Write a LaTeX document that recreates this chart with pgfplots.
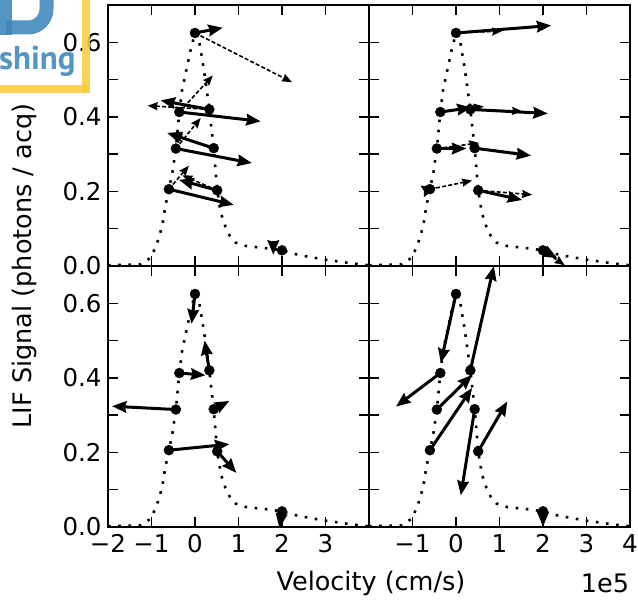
\documentclass[border=0pt]{standalone}
\usepackage{fontspec}
\setmainfont{DejaVu Sans}
\newfontfamily\logofont{PT Sans}
\usepackage{pgfplots}
\usepackage{pgfplotstable}
\pgfplotsset{compat=1.18}
\usetikzlibrary{arrows.meta}

\definecolor{logoyellow}{RGB}{252,204,64}
\definecolor{logoblue}{RGB}{62,134,184}

\pgfplotstableread{
x y
-2.0 0.002
-1.6 0.003
-1.25 0.005
-1.02 0.022
-0.92 0.047
-0.83 0.075
-0.75 0.11
-0.69 0.155
-0.6 0.206
-0.52 0.25
-0.44 0.315
-0.36 0.413
-0.3 0.47
-0.2 0.525
-0.1 0.58
0.0 0.625
0.1 0.6
0.2 0.53
0.33 0.42
0.43 0.316
0.51 0.203
0.6 0.14
0.7 0.105
0.8 0.081
0.93 0.063
1.16 0.054
1.45 0.05
1.7 0.047
2.0 0.042
2.3 0.032
2.6 0.025
3.0 0.017
3.3 0.012
3.6 0.007
4.0 0.002
}\tblcurve

\pgfplotstableread{
x y
0 0.625
0.33 0.42
-0.36 0.413
-0.44 0.315
0.43 0.316
-0.6 0.206
0.51 0.203
2.0 0.042
}\tblpts

% top-left
\pgfplotstableread{
x y u v
0 0.625 0.64 0.014
0.33 0.42 -1.12 0.024
-0.36 0.413 1.87 -0.025
-0.44 0.315 1.75 -0.039
0.43 0.316 -1.07 0.041
-0.6 0.206 1.49 -0.042
0.51 0.203 -0.88 0.028
1.80 0.068 0.0 -0.038
}\tblTLs
\pgfplotstableread{
x y u v
0 0.625 2.23 -0.132
0.33 0.42 -1.42 0.01
-0.36 0.413 0.77 0.098
-0.44 0.315 0.57 0.082
0.43 0.316 -0.95 0.037
-0.6 0.206 0.46 0.063
0.51 0.203 -0.8 0.04
}\tblTLd

% top-right
\pgfplotstableread{
x y u v
0 0.625 2.19 0.02
0.33 0.42 1.78 -0.011
-0.36 0.413 0.72 0.012
-0.44 0.315 0.68 0.0
0.43 0.316 1.3 -0.02
-0.6 0.206 0.15 0.005
0.51 0.203 1.01 -0.026
2.0 0.042 0.33 -0.021
}\tblTRs
\pgfplotstableread{
x y u v
0 0.625 1.06 0.005
0.33 0.42 1.19 -0.005
-0.36 0.413 1.0 0.015
-0.44 0.315 0.97 0.015
0.43 0.316 1.2 -0.016
-0.6 0.206 0.97 0.023
0.51 0.203 1.24 -0.012
2.0 0.042 0.5 -0.04
}\tblTRd

% bottom-left
\pgfplotstableread{
x y u v
0 0.625 -0.08 -0.08
0.33 0.42 -0.11 0.08
-0.36 0.413 0.6 -0.006
-0.44 0.315 -1.47 0.009
0.43 0.316 0.36 0.022
-0.6 0.206 1.39 0.016
0.51 0.203 0.44 -0.058
2.0 0.042 -0.06 -0.045
}\tblBLs

% bottom-right
\pgfplotstableread{
x y u v
0 0.625 -0.35 -0.185
0.33 0.42 0.54 0.28
-0.36 0.413 -1.02 -0.09
-0.44 0.315 0.81 0.093
0.43 0.316 -0.32 -0.231
-0.6 0.206 0.97 0.167
0.51 0.203 0.67 0.134
2.0 0.042 0.0 -0.041
}\tblBRs

\pgfplotsset{
  panel/.style={
    width=261pt, height=261pt, scale only axis,
    anchor=south west,
    xmin=-2, xmax=4, ymin=0, ymax=0.7,
    xtick={-2,-1,0,1,2,3,4},
    ytick={0,0.1,0.2,0.3,0.4,0.5,0.6,0.7},
    xticklabels={}, yticklabels={},
    tick align=inside, xtick pos=both, ytick pos=both,
    xticklabel pos=bottom, yticklabel pos=left,
    major tick length=10pt,
    axis line style={line width=2pt},
    every tick/.style={black, line width=1.5pt},
    tick label style={font=\fontsize{24.5}{28}\selectfont},
    yticklabel style={xshift=-3pt},
    xticklabel style={yshift=-4pt},
  },
  curvestyle/.style={black, line width=2.6pt, dash pattern=on 2.6pt off 7.6pt, no markers},
  ptsstyle/.style={only marks, mark=*, mark size=5pt, black},
  solidarrow/.style={black, line width=3pt, no markers,
    -{Stealth[length=14.5pt,width=11.5pt,inset=1.5pt]},
    quiver={u=\thisrow{u},v=\thisrow{v}}},
  dasharrow/.style={black, line width=1.6pt, dash pattern=on 4pt off 2.2pt, no markers,
    -{Stealth[length=10pt,width=8pt,inset=1pt]},
    quiver={u=\thisrow{u},v=\thisrow{v}}},
}

\begin{document}
\begin{tikzpicture}
\useasboundingbox (0pt,0pt) rectangle (638pt,603pt);

% top-left
\begin{axis}[panel, at={(108pt,337pt)}, yticklabels={0.0,,0.2,,0.4,,0.6,}]
\addplot[curvestyle] table[x=x,y=y] {\tblcurve};
\addplot[ptsstyle] table[x=x,y=y] {\tblpts};
\addplot[dasharrow] table[x=x,y=y] {\tblTLd};
\addplot[solidarrow] table[x=x,y=y] {\tblTLs};
\end{axis}

% top-right
\begin{axis}[panel, at={(369pt,337pt)}]
\addplot[curvestyle] table[x=x,y=y] {\tblcurve};
\addplot[ptsstyle] table[x=x,y=y] {\tblpts};
\addplot[dasharrow] table[x=x,y=y] {\tblTRd};
\addplot[solidarrow] table[x=x,y=y] {\tblTRs};
\end{axis}

% bottom-left
\begin{axis}[panel, at={(108pt,76pt)}, yticklabels={0.0,,0.2,,0.4,,0.6,},
  xticklabels={−2,−1,0,1,2,3,}]
\addplot[curvestyle] table[x=x,y=y] {\tblcurve};
\addplot[ptsstyle] table[x=x,y=y] {\tblpts};
\addplot[solidarrow] table[x=x,y=y] {\tblBLs};
\end{axis}

% bottom-right
\begin{axis}[panel, at={(369pt,76pt)}, xticklabels={,−1,0,1,2,3,4}]
\addplot[curvestyle] table[x=x,y=y] {\tblcurve};
\addplot[ptsstyle] table[x=x,y=y] {\tblpts};
\addplot[solidarrow] table[x=x,y=y] {\tblBRs};
\end{axis}

\node[rotate=90, font=\fontsize{25.5}{30}\selectfont] at (24pt,337pt) {LIF Signal (photons / acq)};
\node[font=\fontsize{25.5}{30}\selectfont] at (371pt,20pt) {Velocity (cm/s)};
\node[font=\fontsize{25.5}{30}\selectfont] at (605pt,20pt) {1e5};

% logo overlay
\begin{scope}[opacity=0.88]
\fill[logoyellow] (82pt,610pt) rectangle (90pt,510pt);
\fill[logoyellow] (-5pt,518pt) rectangle (90pt,510pt);
\fill[logoblue] (-5pt,610pt) rectangle (12pt,568pt);
\draw[logoblue, line width=14pt] (6pt,575.5pt) -- (28pt,575.5pt) arc[start angle=-90, end angle=0, radius=18.5pt] -- (46.5pt,610pt);
\node[anchor=base west, inner sep=0pt, text=logoblue, font=\logofont\bfseries\fontsize{33}{36}\selectfont] at (-1pt,533pt) {shing};
\end{scope}
\end{tikzpicture}
\end{document}
